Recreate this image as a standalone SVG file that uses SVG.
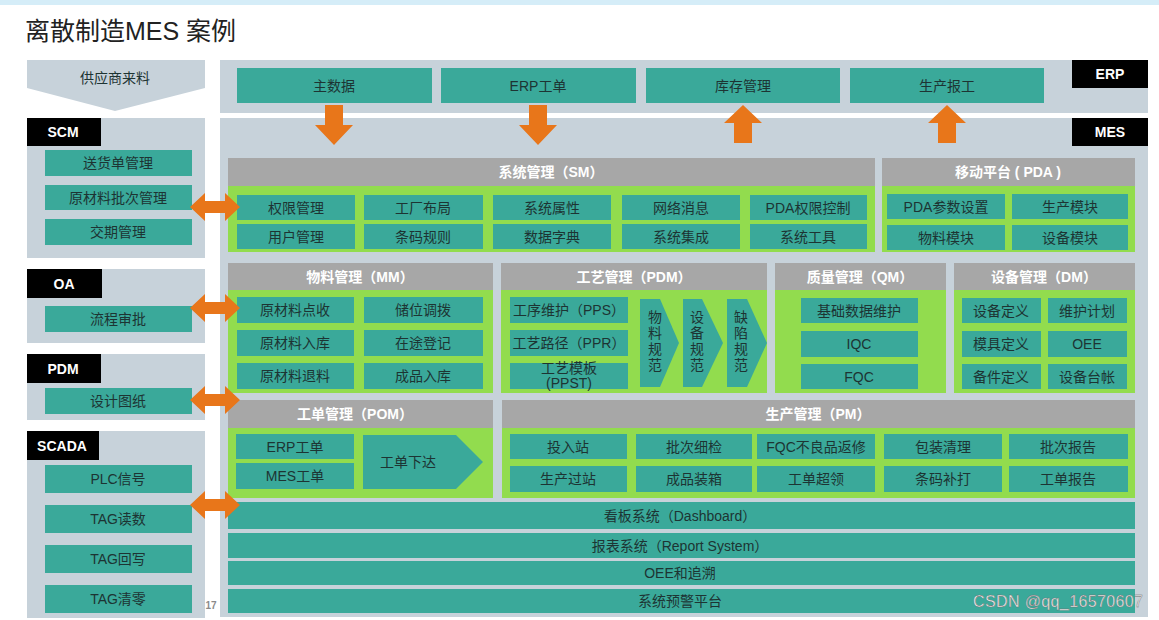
<svg xmlns="http://www.w3.org/2000/svg" width="1159" height="620" viewBox="0 0 1159 620">
<style>
text{font-family:"Liberation Sans","Noto Sans CJK SC",sans-serif}
.bg{fill:#c7d2da}
.teal{fill:#3aa99a}
.green{fill:#92dc4e}
.hdr{fill:#a7a7a7}
.blk{fill:#000}
.or{fill:#e8761a}
.t{font-size:14px;fill:#1d3433;text-anchor:middle;dominant-baseline:central}
.h{font-size:14px;fill:#fff;font-weight:bold;text-anchor:middle;dominant-baseline:central}
.lb{font-size:14px;fill:#fff;font-weight:bold;text-anchor:middle;dominant-baseline:central}
.v{font-size:14px;fill:#1d3433;text-anchor:middle}
</style>
<rect width="1159" height="620" fill="#fff"/>
<rect x="0" y="0" width="1159" height="5" fill="#d5edf8"/>
<text x="25" y="40" font-size="25" fill="#222">离散制造MES 案例</text>

<!-- left column -->
<g id="supplier">
<polygon class="bg" points="27,60 205,60 205,88 115,111 27,88"/>
<text class="t" x="115" y="78" fill="#333">供应商来料</text>
</g>
<g id="scm">
<rect class="bg" x="27" y="118" width="178" height="140"/>
<rect class="blk" x="27" y="118" width="74" height="28"/>
<text class="lb" x="63" y="132">SCM</text>
<rect class="teal" x="45" y="150" width="147" height="26"/><text class="t" x="118" y="163">送货单管理</text>
<rect class="teal" x="45" y="185" width="147" height="25"/><text class="t" x="118" y="198">原材料批次管理</text>
<rect class="teal" x="45" y="219" width="147" height="26"/><text class="t" x="118" y="232">交期管理</text>
</g>
<g id="oa">
<rect class="bg" x="27" y="269" width="178" height="74"/>
<rect class="blk" x="27" y="269" width="75" height="29"/>
<text class="lb" x="64" y="284">OA</text>
<rect class="teal" x="45" y="306" width="147" height="26"/><text class="t" x="118" y="319">流程审批</text>
</g>
<g id="pdm-sys">
<rect class="bg" x="27" y="354" width="178" height="66"/>
<rect class="blk" x="27" y="354" width="74" height="29"/>
<text class="lb" x="63" y="369">PDM</text>
<rect class="teal" x="45" y="388" width="147" height="26"/><text class="t" x="118" y="401">设计图纸</text>
</g>
<g id="scada">
<rect class="bg" x="27" y="431" width="178" height="187"/>
<rect class="blk" x="27" y="431" width="72" height="29"/>
<text class="lb" x="62" y="446">SCADA</text>
<rect class="teal" x="45" y="465" width="147" height="28"/><text class="t" x="118" y="479">PLC信号</text>
<rect class="teal" x="45" y="505" width="147" height="28"/><text class="t" x="118" y="519">TAG读数</text>
<rect class="teal" x="45" y="545" width="147" height="28"/><text class="t" x="118" y="559">TAG回写</text>
<rect class="teal" x="45" y="585" width="147" height="28"/><text class="t" x="118" y="599">TAG清零</text>
<text x="211" y="609" font-size="10" font-weight="bold" fill="#8a8a8a" text-anchor="middle">17</text>
</g>

<!-- ERP panel -->
<g id="erp">
<rect class="bg" x="220" y="60" width="928" height="53"/>
<rect class="blk" x="1072" y="60" width="76" height="28"/>
<text class="lb" x="1110" y="74">ERP</text>
<rect class="teal" x="237" y="68" width="195" height="35"/><text class="t" x="334" y="86">主数据</text>
<rect class="teal" x="441" y="68" width="195" height="35"/><text class="t" x="538" y="86">ERP工单</text>
<rect class="teal" x="646" y="68" width="194" height="35"/><text class="t" x="743" y="86">库存管理</text>
<rect class="teal" x="850" y="68" width="194" height="35"/><text class="t" x="947" y="86">生产报工</text>
</g>

<!-- MES panel -->
<g id="mes">
<rect class="bg" x="220" y="118" width="928" height="499"/>
<rect class="blk" x="1072" y="118" width="76" height="28"/>
<text class="lb" x="1110" y="132">MES</text>
</g>

<g id="sm">
<rect class="hdr" x="228" y="158" width="647" height="28"/>
<text class="h" x="551" y="172">系统管理（SM）</text>
<rect class="green" x="228" y="186" width="647" height="66"/>
<rect class="teal" x="237" y="195" width="118" height="25"/><text class="t" x="296" y="208">权限管理</text>
<rect class="teal" x="364" y="195" width="119" height="25"/><text class="t" x="423" y="208">工厂布局</text>
<rect class="teal" x="493" y="195" width="118" height="25"/><text class="t" x="552" y="208">系统属性</text>
<rect class="teal" x="622" y="195" width="118" height="25"/><text class="t" x="681" y="208">网络消息</text>
<rect class="teal" x="750" y="195" width="117" height="25"/><text class="t" x="808" y="208">PDA权限控制</text>
<rect class="teal" x="237" y="224" width="118" height="25"/><text class="t" x="296" y="237">用户管理</text>
<rect class="teal" x="364" y="224" width="119" height="25"/><text class="t" x="423" y="237">条码规则</text>
<rect class="teal" x="493" y="224" width="118" height="25"/><text class="t" x="552" y="237">数据字典</text>
<rect class="teal" x="622" y="224" width="118" height="25"/><text class="t" x="681" y="237">系统集成</text>
<rect class="teal" x="750" y="224" width="117" height="25"/><text class="t" x="808" y="237">系统工具</text>
</g>

<g id="pda">
<rect class="hdr" x="882" y="158" width="253" height="28"/>
<text class="h" x="1008" y="172">移动平台 ( PDA )</text>
<rect class="green" x="882" y="186" width="253" height="66"/>
<rect class="teal" x="887" y="194" width="118" height="25"/><text class="t" x="946" y="207">PDA参数设置</text>
<rect class="teal" x="1012" y="194" width="116" height="25"/><text class="t" x="1070" y="207">生产模块</text>
<rect class="teal" x="887" y="225" width="118" height="25"/><text class="t" x="946" y="238">物料模块</text>
<rect class="teal" x="1012" y="225" width="116" height="25"/><text class="t" x="1070" y="238">设备模块</text>
</g>

<g id="mm">
<rect class="hdr" x="228" y="263" width="265" height="27"/>
<text class="h" x="360" y="277">物料管理（MM）</text>
<rect class="green" x="228" y="290" width="265" height="103"/>
<rect class="teal" x="237" y="297" width="117" height="26"/><text class="t" x="295" y="310">原材料点收</text>
<rect class="teal" x="364" y="297" width="119" height="26"/><text class="t" x="423" y="310">储位调拨</text>
<rect class="teal" x="237" y="330" width="117" height="26"/><text class="t" x="295" y="343">原材料入库</text>
<rect class="teal" x="364" y="330" width="119" height="26"/><text class="t" x="423" y="343">在途登记</text>
<rect class="teal" x="237" y="363" width="117" height="26"/><text class="t" x="295" y="376">原材料退料</text>
<rect class="teal" x="364" y="363" width="119" height="26"/><text class="t" x="423" y="376">成品入库</text>
</g>

<g id="pdm">
<rect class="hdr" x="501" y="263" width="266" height="27"/>
<text class="h" x="634" y="277">工艺管理（PDM）</text>
<rect class="green" x="501" y="290" width="266" height="103"/>
<rect class="teal" x="510" y="297" width="118" height="26"/><text class="t" x="569" y="310">工序维护（PPS）</text>
<rect class="teal" x="510" y="330" width="118" height="26"/><text class="t" x="569" y="343">工艺路径（PPR）</text>
<rect class="teal" x="510" y="363" width="118" height="26"/>
<text class="v" x="569" y="373" font-size="13">工艺模板</text>
<text class="v" x="569" y="388" font-size="13">(PPST)</text>
<polygon class="teal" points="640,299 660,299 679,343 660,387 640,387"/>
<text class="v" x="655" y="322">物</text><text class="v" x="655" y="338">料</text><text class="v" x="655" y="354">规</text><text class="v" x="655" y="370">范</text>
<polygon class="teal" points="683,299 702,299 723,343 702,387 683,387"/>
<text class="v" x="697" y="322">设</text><text class="v" x="697" y="338">备</text><text class="v" x="697" y="354">规</text><text class="v" x="697" y="370">范</text>
<polygon class="teal" points="727,299 747,299 767,343 747,387 727,387"/>
<text class="v" x="741" y="322">缺</text><text class="v" x="741" y="338">陷</text><text class="v" x="741" y="354">规</text><text class="v" x="741" y="370">范</text>
</g>

<g id="qm">
<rect class="hdr" x="775" y="263" width="171" height="27"/>
<text class="h" x="860" y="277">质量管理（QM）</text>
<rect class="green" x="775" y="290" width="171" height="103"/>
<rect class="teal" x="801" y="298" width="117" height="25"/><text class="t" x="859" y="311">基础数据维护</text>
<rect class="teal" x="801" y="331" width="117" height="26"/><text class="t" x="859" y="344">IQC</text>
<rect class="teal" x="801" y="364" width="117" height="25"/><text class="t" x="859" y="377">FQC</text>
</g>

<g id="dm">
<rect class="hdr" x="954" y="263" width="181" height="27"/>
<text class="h" x="1044" y="277">设备管理（DM）</text>
<rect class="green" x="954" y="290" width="181" height="103"/>
<rect class="teal" x="962" y="298" width="79" height="25"/><text class="t" x="1001" y="311">设备定义</text>
<rect class="teal" x="1048" y="298" width="79" height="25"/><text class="t" x="1087" y="311">维护计划</text>
<rect class="teal" x="962" y="331" width="79" height="26"/><text class="t" x="1001" y="344">模具定义</text>
<rect class="teal" x="1048" y="331" width="79" height="26"/><text class="t" x="1087" y="344">OEE</text>
<rect class="teal" x="962" y="364" width="79" height="25"/><text class="t" x="1001" y="377">备件定义</text>
<rect class="teal" x="1048" y="364" width="79" height="25"/><text class="t" x="1087" y="377">设备台帐</text>
</g>

<g id="pom">
<rect class="hdr" x="228" y="400" width="265" height="28"/>
<text class="h" x="355" y="414">工单管理（POM）</text>
<rect class="green" x="228" y="428" width="265" height="70"/>
<rect class="teal" x="236" y="434" width="118" height="25"/><text class="t" x="295" y="447">ERP工单</text>
<rect class="teal" x="236" y="463" width="118" height="26"/><text class="t" x="295" y="476">MES工单</text>
<polygon class="teal" points="363,435 456,435 483,462 456,489 363,489"/>
<text class="t" x="408" y="462">工单下达</text>
</g>

<g id="pm">
<rect class="hdr" x="502" y="400" width="633" height="28"/>
<text class="h" x="818" y="414">生产管理（PM）</text>
<rect class="green" x="502" y="428" width="633" height="70"/>
<rect class="teal" x="510" y="434" width="117" height="25"/><text class="t" x="568" y="447">投入站</text>
<rect class="teal" x="636" y="434" width="116" height="25"/><text class="t" x="694" y="447">批次细检</text>
<rect class="teal" x="757" y="434" width="118" height="25"/><text class="t" x="816" y="447">FQC不良品返修</text>
<rect class="teal" x="884" y="434" width="118" height="25"/><text class="t" x="943" y="447">包装清理</text>
<rect class="teal" x="1009" y="434" width="119" height="25"/><text class="t" x="1068" y="447">批次报告</text>
<rect class="teal" x="510" y="466" width="117" height="26"/><text class="t" x="568" y="479">生产过站</text>
<rect class="teal" x="636" y="466" width="116" height="26"/><text class="t" x="694" y="479">成品装箱</text>
<rect class="teal" x="757" y="466" width="118" height="26"/><text class="t" x="816" y="479">工单超领</text>
<rect class="teal" x="884" y="466" width="118" height="26"/><text class="t" x="943" y="479">条码补打</text>
<rect class="teal" x="1009" y="466" width="119" height="26"/><text class="t" x="1068" y="479">工单报告</text>
</g>

<g id="bars">
<rect class="teal" x="228" y="502" width="907" height="27"/><text class="t" x="680" y="516">看板系统（Dashboard）</text>
<rect class="teal" x="228" y="533" width="907" height="25"/><text class="t" x="680" y="546">报表系统（Report System）</text>
<rect class="teal" x="228" y="561" width="907" height="24"/><text class="t" x="680" y="573">OEE和追溯</text>
<rect class="teal" x="228" y="589" width="907" height="24"/><text class="t" x="680" y="601">系统预警平台</text>
</g>

<g id="connectors">
<path class="or" d="M325,105 H343 V125 H353 L334,145 L315,125 H325 Z"/>
<path class="or" d="M529,105 H547 V125 H557 L538,145 L519,125 H529 Z"/>
<path class="or" d="M734,143 H752 V123 H762 L743,105 L724,123 H734 Z"/>
<path class="or" d="M938,143 H956 V123 H966 L947,105 L928,123 H938 Z"/>
<path class="or" d="M190,207 L205,193 V201 H225 V193 L240,207 L225,221 V213 H205 V221 Z"/>
<path class="or" d="M190,308 L205,294 V302 H225 V294 L240,308 L225,322 V314 H205 V322 Z"/>
<path class="or" d="M190,400 L205,386 V394 H225 V386 L240,400 L225,414 V406 H205 V414 Z"/>
<path class="or" d="M190,505 L205,491 V499 H225 V491 L240,505 L225,519 V511 H205 V519 Z"/>
</g>

<text x="973" y="607" font-size="16" textLength="170" fill="#f2f2f2" stroke="#6a6a6a" stroke-width="0.4">CSDN @qq_16570607</text>
</svg>
